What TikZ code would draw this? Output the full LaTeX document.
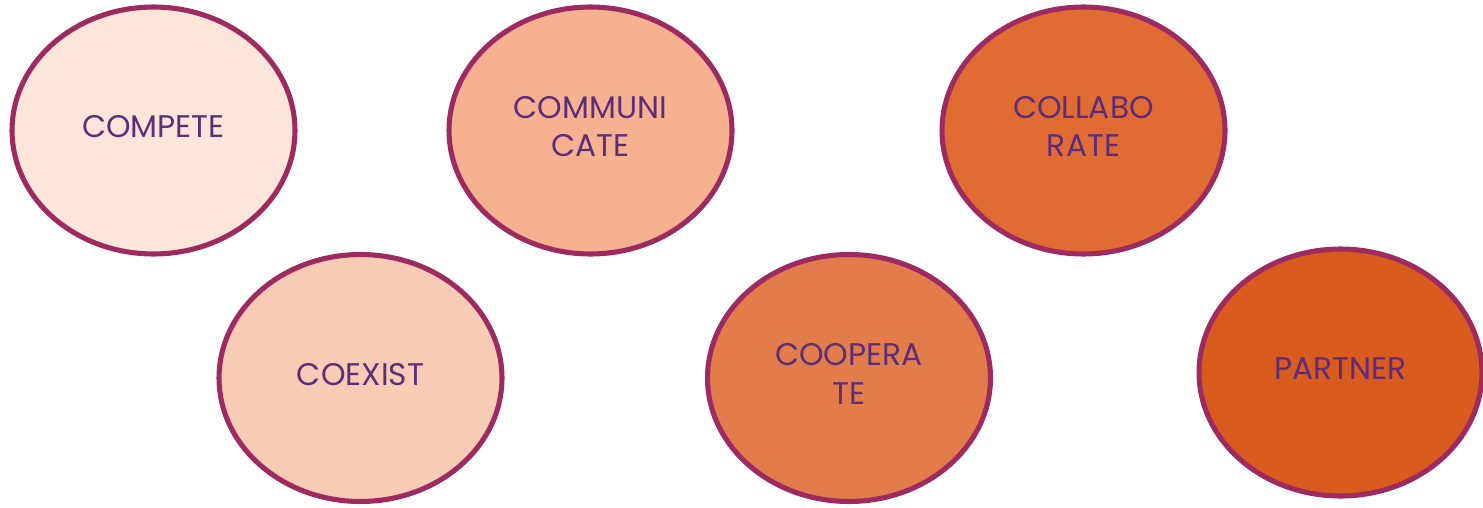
\documentclass[tikz,border=0pt]{standalone}
\usepackage{fontspec}
\setmainfont{Poppins}
\usetikzlibrary{shapes.geometric}
\definecolor{rim}{HTML}{9E2A62}
\definecolor{ink}{HTML}{5C2D7A}
\definecolor{fillA}{HTML}{FDE5D9}
\definecolor{fillB}{HTML}{F8CBB5}
\definecolor{fillC}{HTML}{F6B290}
\definecolor{fillD}{HTML}{E37C4B}
\definecolor{fillE}{HTML}{E06C33}
\definecolor{fillF}{HTML}{DA5B1E}
\tikzset{
  stage/.style={ellipse, draw=rim, line width=2.9pt, inner sep=0pt,
    minimum width=5.66cm, minimum height=4.94cm, text=ink, align=center,
    text depth=0.16cm, font=\fontsize{17.8}{21.8}\selectfont}
}
\begin{document}
\begin{tikzpicture}[x=0.02cm, y=-0.02cm]
\useasboundingbox (0,0) rectangle (1483,507);
\node[stage, fill=fillA] (compete) at (153.5,130.5) {COMPETE};
\node[stage, fill=fillC] (communicate) at (590.5,130.5) {COMMUNI\\CATE};
\node[stage, fill=fillE] (collaborate) at (1083.5,130.5) {COLLABO\\RATE};
\node[stage, fill=fillB] (coexist) at (360.5,378) {COEXIST};
\node[stage, fill=fillD] (cooperate) at (849,378) {COOPERA\\TE};
\node[stage, fill=fillF] (partner) at (1340.5,372.5) {PARTNER};
\end{tikzpicture}
\end{document}
